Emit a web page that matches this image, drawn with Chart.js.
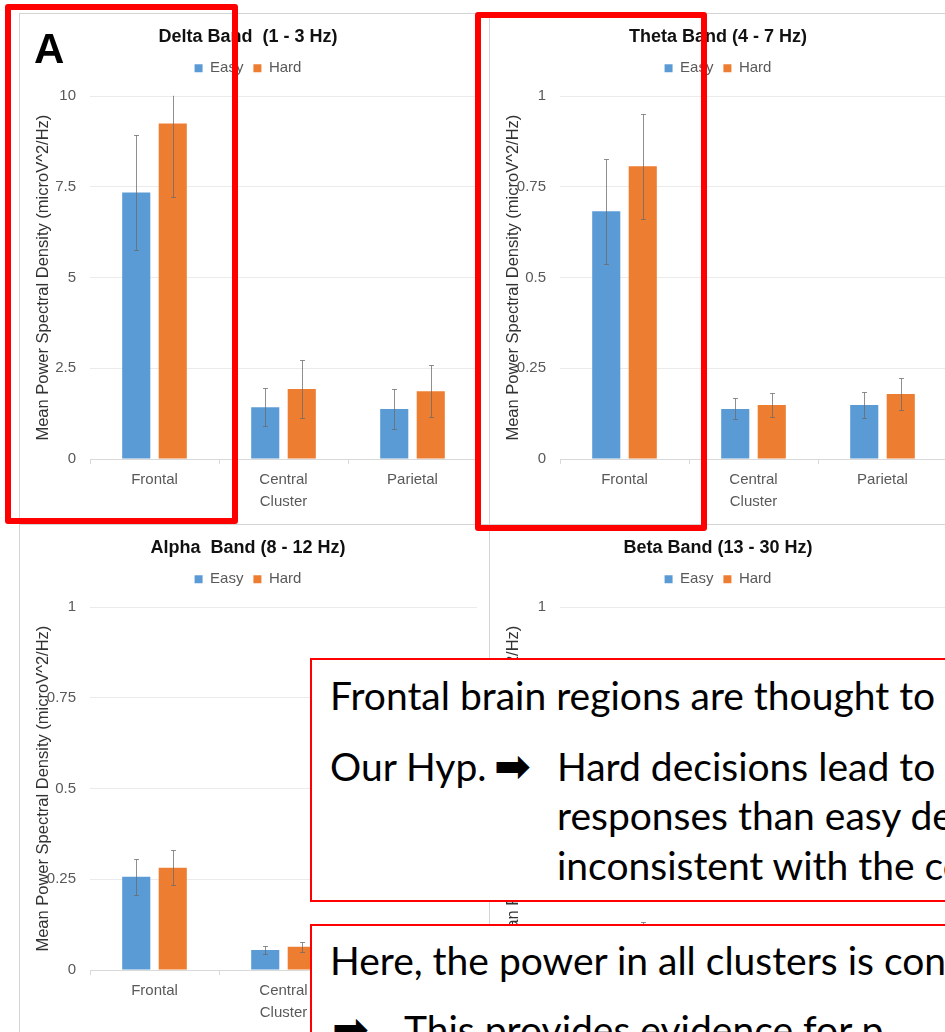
<!DOCTYPE html>
<html><head><meta charset="utf-8">
<script src="https://cdn.jsdelivr.net/npm/chart.js@4.4.0/dist/chart.umd.min.js"></script>
<style>
html,body{margin:0;padding:0;background:#fff;width:945px;height:1032px;overflow:hidden;position:relative;}
canvas{position:absolute;}
.ln{position:absolute;background:#d4d4d4;}
.redrect{position:absolute;border:6px solid #ff0000;border-radius:3px;box-sizing:border-box;}
.tbox{position:absolute;background:#fff;border:2px solid #ff0000;box-sizing:border-box;}
.tl{position:absolute;white-space:nowrap;font-family:Lato,'Open Sans',sans-serif;font-size:39px;line-height:40px;color:#000;}
.arr{position:absolute;white-space:nowrap;font-family:'DejaVu Sans',sans-serif;font-weight:bold;font-size:44px;line-height:48px;color:#000;}
.lab{position:absolute;font-family:'Liberation Sans',Arial,sans-serif;font-weight:bold;font-size:42px;line-height:42px;color:#000;}
</style></head>
<body>
<div class="ln" style="left:19px;top:13px;width:926px;height:1px"></div>
<div class="ln" style="left:19px;top:13px;width:1px;height:1019px"></div>
<div class="ln" style="left:489px;top:13px;width:1px;height:1019px"></div>
<div class="ln" style="left:19px;top:524px;width:926px;height:1px"></div>

<canvas id="cDelta" width="470" height="511" style="left:19px;top:13px"></canvas>
<canvas id="cTheta" width="470" height="511" style="left:489px;top:13px"></canvas>
<canvas id="cAlpha" width="470" height="511" style="left:19px;top:524px"></canvas>
<canvas id="cBeta" width="470" height="511" style="left:489px;top:524px"></canvas>

<div class="lab" style="left:34px;top:28px">A</div>

<div class="tbox" style="left:310px;top:658px;width:700px;height:244px"></div>
<div class="tl" style="left:330px;top:675px">Frontal brain regions are thought to</div>
<div class="tl" style="left:330px;top:746px">Our Hyp.</div>
<div class="arr" style="left:494px;top:742px">➡</div>
<div class="tl" style="left:557px;top:746px">Hard decisions lead to</div>
<div class="tl" style="left:557px;top:795px">responses than easy decisions</div>
<div class="tl" style="left:557px;top:845px">inconsistent with the co</div>

<div class="tbox" style="left:310px;top:924px;width:700px;height:200px"></div>
<div class="tl" style="left:330px;top:940px">Here, the power in all clusters is con</div>
<div class="arr" style="left:332px;top:1005px">➡</div>
<div class="tl" style="left:404px;top:1009px">This provides evidence for p</div>

<div class="redrect" style="left:5px;top:4px;width:233px;height:520px"></div>
<div class="redrect" style="left:475px;top:12px;width:232px;height:519px"></div>

<script>
// ---- data ----
const categories = ['Frontal', ['Central', 'Cluster'], 'Parietal'];
const seriesNames = ['Easy', 'Hard'];
const yAxisTitle = 'Mean Power Spectral Density (microV^2/Hz)';

const deltaTitle = 'Delta Band  (1 - 3 Hz)';
const deltaEasy = [7.35, 1.43, 1.38];
const deltaHard = [9.25, 1.93, 1.87];
const deltaEasyErr = [1.58, 0.52, 0.54];
const deltaHardErr = [2.02, 0.79, 0.71];
const deltaTicks = {max: 10, step: 2.5};

const thetaTitle = 'Theta Band (4 - 7 Hz)';
const thetaEasy = [0.683, 0.138, 0.149];
const thetaHard = [0.807, 0.149, 0.179];
const thetaEasyErr = [0.145, 0.029, 0.035];
const thetaHardErr = [0.145, 0.033, 0.043];
const thetaTicks = {max: 1, step: 0.25};

const alphaTitle = 'Alpha  Band (8 - 12 Hz)';
const alphaEasy = [0.257, 0.055, 0.058];
const alphaHard = [0.282, 0.064, 0.068];
const alphaEasyErr = [0.050, 0.010, 0.011];
const alphaHardErr = [0.048, 0.013, 0.013];
const alphaTicks = {max: 1, step: 0.25};

const betaTitle = 'Beta Band (13 - 30 Hz)';
const betaEasy = [0.090, 0.030, 0.032];
const betaHard = [0.105, 0.034, 0.037];
const betaEasyErr = [0.022, 0.006, 0.007];
const betaHardErr = [0.028, 0.007, 0.008];
const betaTicks = {max: 1, step: 0.25};

const colors = ['#5B9BD5', '#ED7D31'];
const FONT = "'Liberation Sans', Arial, sans-serif";

const errorBarPlugin = {
  id: 'errorBars',
  afterDatasetsDraw(chart, args, opts) {
    const ctx = chart.ctx, ys = chart.scales.y, a = chart.chartArea;
    ctx.save();
    ctx.beginPath();
    ctx.rect(a.left, a.top - 0.5, a.right - a.left, a.bottom - a.top + 1);
    ctx.clip();
    ctx.strokeStyle = opts.color;
    ctx.lineWidth = 1;
    chart.data.datasets.forEach((ds, di) => {
      const meta = chart.getDatasetMeta(di);
      meta.data.forEach((bar, i) => {
        const v = ds.data[i], e = ds.errors[i];
        const x = Math.round(bar.x) + 0.5;
        const yt = Math.round(ys.getPixelForValue(v + e)) + 0.5;
        const yb = Math.round(ys.getPixelForValue(v - e)) + 0.5;
        ctx.beginPath();
        ctx.moveTo(x, yt); ctx.lineTo(x, yb);
        ctx.moveTo(x - opts.cap, yt); ctx.lineTo(x + opts.cap, yt);
        ctx.moveTo(x - opts.cap, yb); ctx.lineTo(x + opts.cap, yb);
        ctx.stroke();
      });
    });
    ctx.restore();
  }
};

function makeChart(id, title, easy, hard, easyErr, hardErr, ticks) {
  return new Chart(document.getElementById(id), {
    type: 'bar',
    data: {
      labels: categories,
      datasets: [
        {label: seriesNames[0], data: easy, errors: easyErr, backgroundColor: colors[0], borderWidth: 0},
        {label: seriesNames[1], data: hard, errors: hardErr, backgroundColor: colors[1], borderWidth: 0}
      ]
    },
    options: {
      responsive: false,
      animation: false,
      devicePixelRatio: 1,
      layout: {padding: {left: 0, right: 12, top: 0, bottom: 0}},
      datasets: {bar: {categoryPercentage: 0.566, barPercentage: 0.77}},
      plugins: {
        title: {display: true, text: title, color: '#111', weight: 2000,
          font: {family: FONT, size: 18, weight: 'bold', lineHeight: 1.2},
          padding: {top: 13, bottom: 3.2}},
        legend: {display: true, position: 'top', weight: 1000,
          labels: {boxWidth: 8, boxHeight: 8, padding: 10, color: '#595959',
            font: {family: FONT, size: 15}}},
        subtitle: {display: true, text: '', weight: 500, position: 'top',
          font: {size: 1, lineHeight: 1}, padding: {top: 9.5, bottom: 0}},
        tooltip: {enabled: false},
        errorBars: {color: 'rgba(105,105,105,0.75)', cap: 2.5}
      },
      scales: {
        x: {
          grid: {display: true, drawOnChartArea: false, offset: true, tickLength: 5, color: '#d9d9d9'},
          border: {color: '#d9d9d9'},
          ticks: {color: '#595959', padding: 5, font: {family: FONT, size: 15, lineHeight: 1.467}},
          afterFit(s) { s.height = 65; }
        },
        y: {
          min: 0, max: ticks.max,
          ticks: {stepSize: ticks.step, color: '#595959', padding: 14, font: {family: FONT, size: 15},
            callback: v => String(+v.toFixed(2))},
          grid: {color: '#ebebeb', drawTicks: false},
          border: {display: false},
          title: {display: true, text: yAxisTitle, color: '#333',
            font: {family: FONT, size: 16.5, lineHeight: 1.2}, padding: {top: 15, bottom: 0}},
          afterFit(s) { s.width = 71; }
        }
      }
    },
    plugins: [errorBarPlugin]
  });
}

makeChart('cDelta', deltaTitle, deltaEasy, deltaHard, deltaEasyErr, deltaHardErr, deltaTicks);
makeChart('cTheta', thetaTitle, thetaEasy, thetaHard, thetaEasyErr, thetaHardErr, thetaTicks);
makeChart('cAlpha', alphaTitle, alphaEasy, alphaHard, alphaEasyErr, alphaHardErr, alphaTicks);
makeChart('cBeta', betaTitle, betaEasy, betaHard, betaEasyErr, betaHardErr, betaTicks);
</script>
</body></html>
